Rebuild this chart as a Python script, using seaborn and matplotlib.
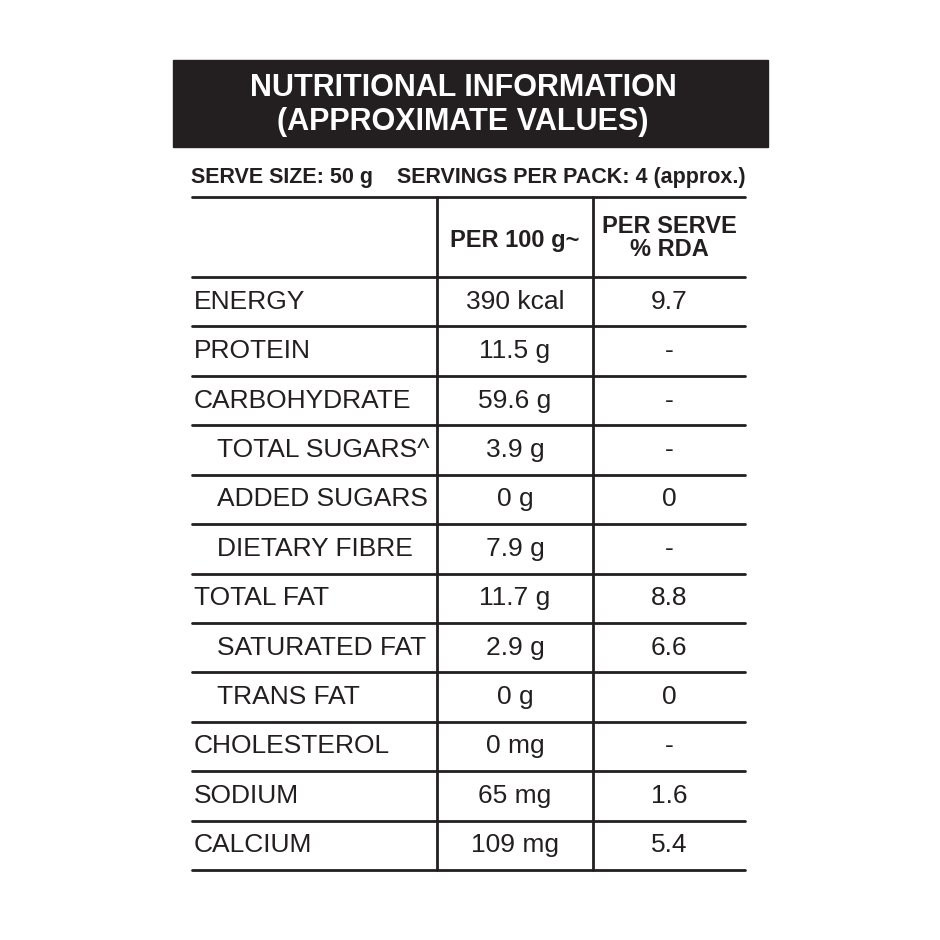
import matplotlib
matplotlib.use("Agg")
import matplotlib.pyplot as plt
import seaborn as sns
from matplotlib.patches import Rectangle

nutrients = ["ENERGY", "PROTEIN", "CARBOHYDRATE", "TOTAL SUGARS^", "ADDED SUGARS",
             "DIETARY FIBRE", "TOTAL FAT", "SATURATED FAT", "TRANS FAT",
             "CHOLESTEROL", "SODIUM", "CALCIUM"]
indented = [False, False, False, True, True, True, False, True, True, False, False, False]
per_100g = ["390 kcal", "11.5 g", "59.6 g", "3.9 g", "0 g", "7.9 g", "11.7 g",
            "2.9 g", "0 g", "0 mg", "65 mg", "109 mg"]
per_serve_rda = ["9.7", "-", "-", "-", "0", "-", "8.8", "6.6", "0", "-", "1.6", "5.4"]
title_lines = ["NUTRITIONAL INFORMATION", "(APPROXIMATE VALUES)"]
serve_text = "SERVE SIZE: 50 g    SERVINGS PER PACK: 4 (approx.)"
col_headers = ["PER 100 g~", "PER SERVE\n% RDA"]

sns.set_theme(style="white")
plt.rcParams["font.family"] = ["Liberation Sans Narrow", "Liberation Sans", "DejaVu Sans"]

fig = plt.figure(figsize=(9.4, 9.4), dpi=100)
ax = fig.add_axes([0, 0, 1, 1])
ax.set_xlim(0, 940)
ax.set_ylim(940, 0)
ax.axis("off")

lc = "#231f20"
ax.add_patch(Rectangle((173, 60), 595, 87, color=lc))
ax.text(463, 88, title_lines[0], color="white", fontsize=22, fontweight="bold", ha="center", va="center")
ax.text(463, 122, title_lines[1], color="white", fontsize=22, fontweight="bold", ha="center", va="center")
ax.text(468, 177, serve_text, color=lc, fontsize=15.5, fontweight="bold", ha="center", va="center")

x0, x1, x2, x3 = 192, 437, 593, 745
top, hdr = 197, 277
rh = (870 - hdr) / len(nutrients)
ax.plot([x0, x3], [top, top], color=lc, lw=2)
ax.plot([x0, x3], [hdr, hdr], color=lc, lw=2)
ax.plot([x1, x1], [top, 870], color=lc, lw=2)
ax.plot([x2, x2], [top, 870], color=lc, lw=2)
ax.text((x1 + x2) / 2, 240, col_headers[0], fontsize=17, fontweight="bold", ha="center", va="center", color=lc)
ax.text((x2 + x3) / 2, 238, col_headers[1], fontsize=17, fontweight="bold", ha="center", va="center",
        color=lc, linespacing=1.0)

for i, (n, ind, a, b) in enumerate(zip(nutrients, indented, per_100g, per_serve_rda)):
    yc = hdr + rh * (i + 0.5)
    yb = hdr + rh * (i + 1)
    ax.plot([x0, x3], [yb, yb], color=lc, lw=2)
    ax.text(x0 + (25 if ind else 2), yc, n, fontsize=19, ha="left", va="center", color=lc)
    ax.text((x1 + x2) / 2, yc, a, fontsize=19, ha="center", va="center", color=lc)
    ax.text((x2 + x3) / 2, yc, b, fontsize=19, ha="center", va="center", color=lc)

fig.savefig("out.png", dpi=100, facecolor="white")
